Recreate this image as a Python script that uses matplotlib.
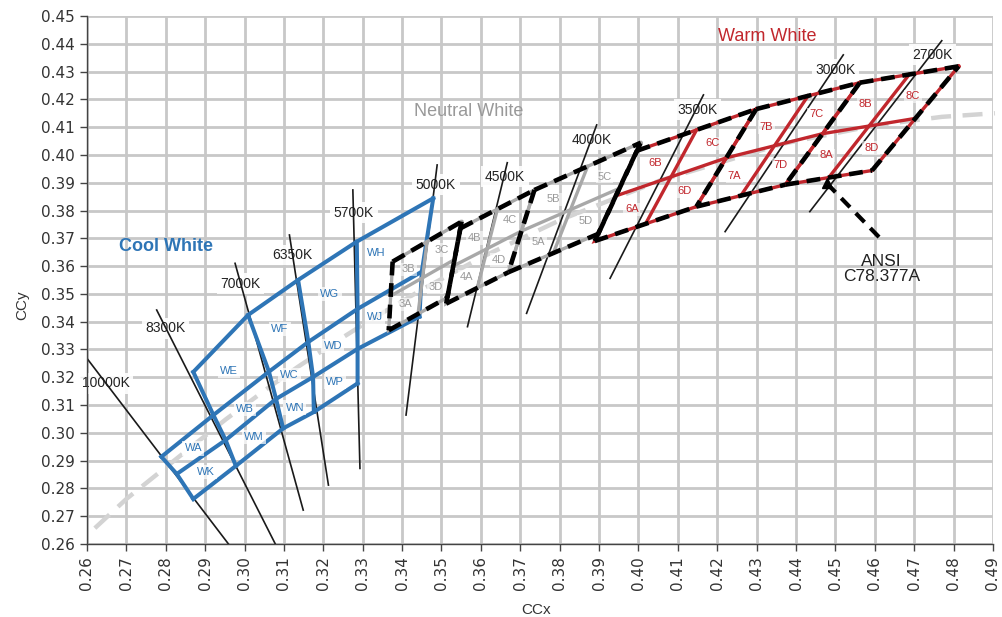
import numpy as np
import matplotlib
matplotlib.use("Agg")
import matplotlib.pyplot as plt

# ANSI C78.377A quadrangles, corners ordered TR, TL, BL, BR
ansi_names = ["2700K", "3000K", "3500K", "4000K", "4500K", "5000K"]
ansi_prefix = ["8", "7", "6", "5", "4", "3"]
ansi_x = [[0.4813, 0.4562, 0.4373, 0.4593],
          [0.4562, 0.4299, 0.4147, 0.4373],
          [0.4299, 0.3996, 0.3889, 0.4147],
          [0.4006, 0.3736, 0.3670, 0.3898],
          [0.3736, 0.3548, 0.3512, 0.3670],
          [0.3551, 0.3376, 0.3366, 0.3515]]
ansi_y = [[0.4319, 0.4260, 0.3893, 0.3944],
          [0.4260, 0.4165, 0.3814, 0.3893],
          [0.4165, 0.4015, 0.3690, 0.3814],
          [0.4044, 0.3874, 0.3578, 0.3716],
          [0.3874, 0.3736, 0.3465, 0.3578],
          [0.3760, 0.3616, 0.3369, 0.3487]]

# cool white bin grid nodes (rows top -> bottom, columns left -> right)
nan = np.nan
cool_x = np.array([[nan,    0.2870, 0.3009, 0.3136, 0.3285, 0.3479],
                   [0.2789, 0.2921, 0.3062, 0.3162, 0.3287, 0.3450],
                   [0.2828, 0.2952, 0.3080, 0.3174, 0.3287, 0.3444],
                   [0.2870, 0.2978, 0.3098, 0.3176, 0.3287, nan]])
cool_y = np.array([[nan,    0.3219, 0.3424, 0.3550, 0.3688, 0.3844],
                   [0.2914, 0.3064, 0.3220, 0.3327, 0.3446, 0.3580],
                   [0.2852, 0.2974, 0.3122, 0.3201, 0.3302, 0.3418],
                   [0.2762, 0.2881, 0.3016, 0.3075, 0.3178, nan]])

# cool white bin names and where their labels sit
cool_names = ["WE", "WF", "WG", "WH", "WA", "WB", "WC", "WD", "WJ", "WK", "WM", "WN", "WP"]
cool_lbl_x = [0.2961, 0.3090, 0.3217, 0.3335, 0.2870, 0.3001, 0.3114, 0.3224, 0.3331,
              0.2902, 0.3024, 0.3128, 0.3230]
cool_lbl_y = [0.3224, 0.3373, 0.3499, 0.3647, 0.2944, 0.3086, 0.3208, 0.3313, 0.3418,
              0.2860, 0.2986, 0.3091, 0.3184]

# isotherm lines (top end, bottom end) and their labels
iso_names = ["10000K", "8300K", "7000K", "6350K", "5700K", "5000K",
             "4500K", "4000K", "3500K", "3000K", "2700K"]
iso_top_x = [0.2600, 0.2777, 0.2976, 0.3114, 0.3275, 0.3489, 0.3667, 0.3894, 0.4165, 0.4520, 0.4770]
iso_top_y = [0.3268, 0.3442, 0.3610, 0.3712, 0.3874, 0.3964, 0.3972, 0.4108, 0.4216, 0.4360, 0.4411]
iso_bot_x = [0.2962, 0.3080, 0.3149, 0.3213, 0.3293, 0.3410, 0.3566, 0.3716, 0.3928, 0.4220, 0.4435]
iso_bot_y = [0.2595, 0.2595, 0.2722, 0.2812, 0.2872, 0.3064, 0.3382, 0.3430, 0.3556, 0.3724, 0.3796]
iso_lbl_x = [0.2648, 0.2800, 0.2990, 0.3122, 0.3278, 0.3486, 0.3661, 0.3882, 0.4150, 0.4500, 0.4746]
iso_lbl_y = [0.3179, 0.3376, 0.3536, 0.3640, 0.3792, 0.3892, 0.3922, 0.4054, 0.4162, 0.4306, 0.4360]

# black body locus
planck_x = [0.2620, 0.2700, 0.2807, 0.2952, 0.3064, 0.3135, 0.3221, 0.3325,
            0.3451, 0.3608, 0.3805, 0.4053, 0.4369, 0.4599, 0.4770, 0.4905]
planck_y = [0.2657, 0.2762, 0.2884, 0.3048, 0.3166, 0.3237, 0.3318, 0.3411,
            0.3516, 0.3636, 0.3768, 0.3907, 0.4041, 0.4106, 0.4137, 0.4150]

RED = "#c1272d"
GREY = "#a8a8a8"
GREY_TXT = "#999999"
BLUE = "#2e75b6"
LBL_FONT = ["Liberation Sans", "DejaVu Sans"]

fig = plt.figure(figsize=(10.03, 6.17), dpi=100)
ax = fig.add_axes([0.0867, 0.1183, 0.9033, 0.8558])

ax.set_xlim(0.26, 0.49)
ax.set_ylim(0.26, 0.45)
ax.set_xticks(np.round(np.arange(0.26, 0.4901, 0.01), 2))
ax.set_yticks(np.round(np.arange(0.26, 0.4501, 0.01), 2))
ax.set_xticklabels(["%.2f" % v for v in ax.get_xticks()], rotation=90)
ax.set_yticklabels(["%.2f" % v for v in ax.get_yticks()])
ax.tick_params(direction="out", length=5, width=1, color="#444444",
               labelsize=11, labelcolor="#333333")
ax.set_axisbelow(True)
ax.grid(True, color="#c8c8c8", lw=2.0)
for s in ["top", "right"]:
    ax.spines[s].set_visible(False)
for s in ["left", "bottom"]:
    ax.spines[s].set_color("#444444")
    ax.spines[s].set_linewidth(1.0)

ax.set_xlabel("CCx", fontsize=11, family=LBL_FONT, color="#333333")
ax.set_ylabel("CCy", fontsize=11, family=LBL_FONT, color="#333333")
ax.xaxis.set_label_coords(0.4956, -0.112)
ax.yaxis.set_label_coords(-0.064, 0.453)

# black body curve
ax.plot(planck_x, planck_y, color="#d3d3d3", lw=3.2, ls=(0, (4.5, 2.6)),
        dash_capstyle="butt", zorder=2.2, clip_on=False)

# isotherms
for i, name in enumerate(iso_names):
    ax.plot([iso_top_x[i], iso_bot_x[i]], [iso_top_y[i], iso_bot_y[i]],
            color="#1a1a1a", lw=1.2, zorder=2.5)
    ax.text(iso_lbl_x[i], iso_lbl_y[i], name, fontsize=10, family=LBL_FONT,
            color="#222222", ha="center", va="center", zorder=2.3, clip_on=False,
            bbox=dict(boxstyle="square,pad=0.25", fc="white", ec="none", alpha=0.9))

# cool white bins
for i in range(cool_x.shape[0]):
    ax.plot(cool_x[i], cool_y[i], color=BLUE, lw=2.9, zorder=3,
            solid_capstyle="projecting", solid_joinstyle="miter")
for j in range(cool_x.shape[1]):
    ax.plot(cool_x[:, j], cool_y[:, j], color=BLUE, lw=2.9, zorder=3,
            solid_capstyle="projecting", solid_joinstyle="miter")
for name, lx, ly in zip(cool_names, cool_lbl_x, cool_lbl_y):
    ax.text(lx, ly, name, fontsize=8, family=LBL_FONT, color=BLUE,
            ha="center", va="center", zorder=4.5,
            bbox=dict(boxstyle="square,pad=0.2", fc="white", ec="none", alpha=0.7))

# ANSI quadrangles split into four bins each
drawn = set()
for k in range(len(ansi_names)):
    col = RED if k < 3 else GREY
    tcol = RED if k < 3 else GREY_TXT
    p = np.column_stack([ansi_x[k], ansi_y[k]])
    tr, tl, bl, br = p
    mid_t, mid_b = (tr + tl) / 2, (bl + br) / 2
    mid_l, mid_r = (tl + bl) / 2, (tr + br) / 2
    cen = p.mean(axis=0)

    ring = np.vstack([p, p[:1]])
    ax.plot(ring[:, 0], ring[:, 1], color=col, lw=2.4, zorder=3,
            solid_joinstyle="miter")
    ax.plot([mid_t[0], mid_b[0]], [mid_t[1], mid_b[1]], color=col, lw=2.4, zorder=3)
    ax.plot([mid_l[0], mid_r[0]], [mid_l[1], mid_r[1]], color=col, lw=2.4, zorder=3)

    cells = {"A": [bl, mid_l, cen, mid_b], "B": [mid_l, tl, mid_t, cen],
             "C": [cen, mid_t, tr, mid_r], "D": [mid_b, cen, mid_r, br]}
    for letter, pts in cells.items():
        q = np.mean(pts, axis=0)
        ax.text(q[0], q[1], ansi_prefix[k] + letter, fontsize=8, family=LBL_FONT,
                color=tcol, ha="center", va="center", zorder=4.5,
                bbox=dict(boxstyle="square,pad=0.15", fc="white", ec="none", alpha=0.6))

    # black dashed outline, each edge once
    for a, b in [(tl, tr), (tl, bl), (bl, br), (br, tr)]:
        key = frozenset([tuple(a), tuple(b)])
        if key in drawn:
            continue
        drawn.add(key)
        ax.plot([a[0], b[0]], [a[1], b[1]], color="black", lw=3.3,
                ls=(0, (3.0, 1.7)), dash_capstyle="butt", zorder=4)

# region titles
ax.text(0.2800, 0.3672, "Cool White", fontsize=13, family=LBL_FONT, color=BLUE,
        fontweight="bold", ha="center", va="center", zorder=5)
ax.text(0.3570, 0.4158, "Neutral White", fontsize=13, family=LBL_FONT, color=GREY_TXT,
        ha="center", va="center", zorder=5)
ax.text(0.4326, 0.4426, "Warm White", fontsize=13, family=LBL_FONT, color=RED,
        ha="center", va="center", zorder=5)

# ANSI pointer
ax.plot([0.4478, 0.4622], [0.3898, 0.3688], color="black", lw=3,
        ls=(0, (3.0, 2.0)), dash_capstyle="butt", zorder=4)
ax.plot([0.4478], [0.3898], marker="^", ms=7, color="black", zorder=4)
ax.text(0.4617, 0.3590, "ANSI\nC78.377A", fontsize=12.5, family=LBL_FONT,
        color="#222222", ha="center", va="center", linespacing=1.05, zorder=5)

fig.savefig("out.png", dpi=100, facecolor="white")
